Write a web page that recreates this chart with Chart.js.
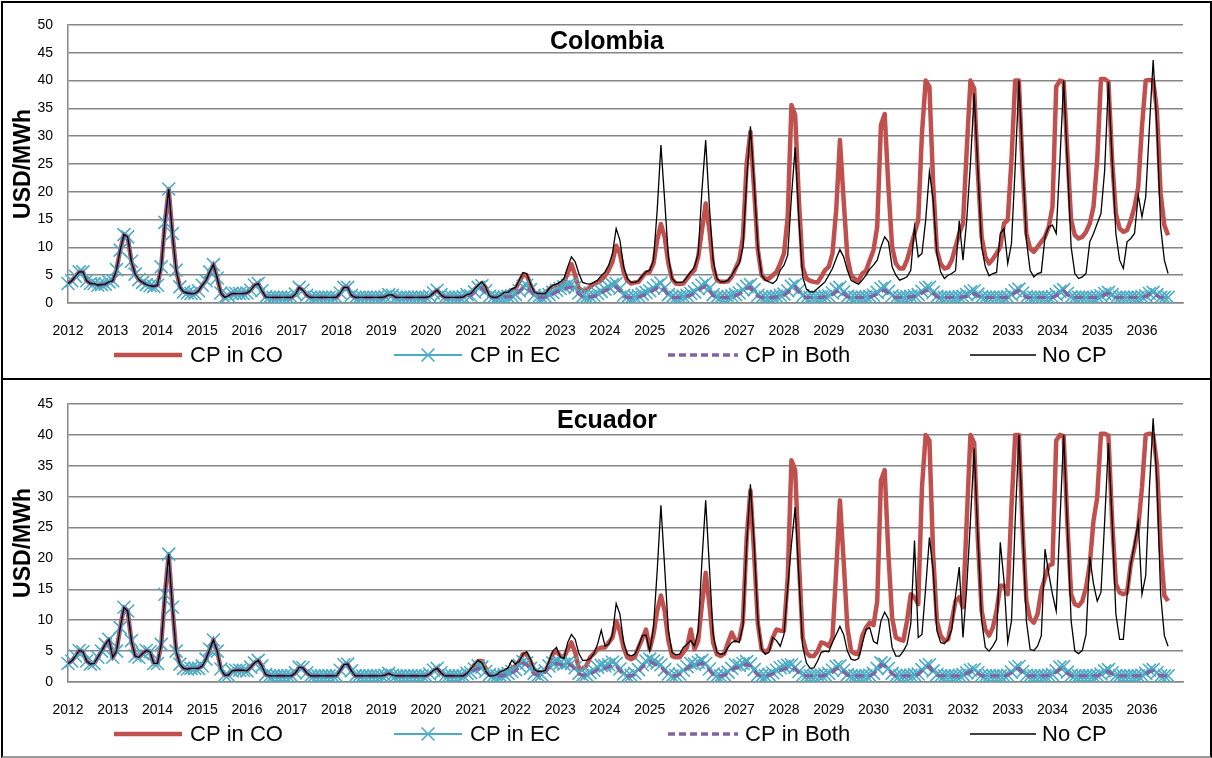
<!DOCTYPE html>
<html lang="en">
<head>
<meta charset="UTF-8">
<title>Colombia / Ecuador - USD/MWh</title>
<style>
  body { margin: 0; background: #fff; }
  #wrap { position: relative; width: 1212px; height: 758px; overflow: hidden; }
  canvas { position: absolute; left: 0; }
  .frame { position: absolute; box-sizing: border-box; border: 2px solid #000; pointer-events: none; }
</style>
<script src="https://cdn.jsdelivr.net/npm/chart.js"></script>
</head>
<body>
<div id="wrap">
  <canvas id="co" width="1212" height="379" style="top:0"></canvas>
  <canvas id="ec" width="1212" height="379" style="top:379px"></canvas>
  <div class="frame" style="left:1px;top:1px;width:1211px;height:379px"></div>
  <div class="frame" style="left:1px;top:378px;width:1211px;height:380px;border-bottom-color:#999"></div>
</div>

<script>
// year tick labels, one category per month
const years = ['2012','2013','2014','2015','2016','2017','2018','2019','2020','2021','2022','2023',
  '2024','2025','2026','2027','2028','2029','2030','2031','2032','2033','2034','2035','2036'];

// Colombia - shared history 2012-2020 (all series overlap)
const coHist = [
  3.5, 4.0, 4.8, 5.6, 5.6, 4.0, 3.5, 3.5, 3.2, 3.3, 3.4, 3.8,
  4.0, 6.0, 9.5, 12.3, 11.9, 7.5, 5.2, 4.2, 3.7, 3.3, 3.1, 3.0,
  3.2, 6.5, 14.5, 20.5, 12.5, 5.9, 2.9, 2.0, 1.8, 1.7, 1.7, 2.2,
  3.2, 4.0, 5.6, 6.9, 4.5, 1.8, 1.0, 1.3, 1.7, 1.7, 1.7, 1.7,
  1.8, 2.3, 3.2, 3.5, 2.2, 1.1, 1.0, 1.0, 1.0, 1.0, 1.0, 1.0,
  1.0, 1.6, 2.8, 2.3, 1.4, 1.0, 1.0, 1.0, 1.0, 1.0, 1.0, 1.0,
  1.0, 1.8, 2.8, 2.8, 1.4, 1.0, 1.0, 1.0, 1.0, 1.0, 1.0, 1.0,
  1.0, 1.1, 1.5, 1.4, 1.0, 1.0, 1.0, 1.0, 1.0, 1.0, 1.0, 1.0,
  1.0, 1.2, 1.8, 2.3, 1.5, 1.0, 1.0, 1.0, 1.0, 1.0, 1.1, 1.5
];
// Colombia 2021 - Aug 2036
const coCO = [
  1.8, 2.4, 3.1, 3.6, 2.8, 1.3, 1.0, 1.0, 1.4, 1.8, 1.9, 2.3,
  2.6, 3.8, 5.0, 5.0, 3.3, 1.9, 1.6, 1.6, 1.7, 2.5, 3.0, 3.2,
  3.2, 3.8, 5.3, 7.0, 5.0, 2.6, 2.2, 2.3, 2.9, 3.4, 3.7, 4.1,
  4.9, 5.9, 7.4, 10.3, 8.9, 5.6, 4.0, 3.5, 3.7, 3.8, 4.7, 5.5,
  5.6, 7.1, 11.3, 14.2, 11.9, 7.1, 4.3, 3.5, 3.4, 3.5, 4.4, 5.3,
  5.9, 8.3, 13.1, 17.9, 13.1, 6.5, 4.1, 3.8, 3.8, 3.9, 4.7, 6.2,
  7.7, 11.9, 25.1, 30.8, 20.3, 9.5, 5.0, 4.3, 4.4, 5.0, 5.6, 7.1,
  8.9, 15.5, 35.6, 33.8, 18.5, 6.5, 4.4, 4.0, 3.8, 3.7, 4.7, 5.9,
  6.5, 8.9, 16.7, 29.3, 18.5, 8.3, 5.0, 4.3, 4.0, 5.3, 5.8, 7.7,
  9.5, 13.7, 32.0, 34.0, 20.9, 10.1, 7.1, 6.2, 6.2, 7.7, 10.1, 12.5,
  14.9, 30.5, 40.0, 38.9, 21.5, 9.5, 7.1, 6.2, 6.4, 7.7, 10.1, 12.5,
  14.3, 27.5, 40.0, 38.6, 23.3, 11.9, 8.3, 7.1, 7.9, 8.9, 10.1, 14.3,
  14.9, 25.7, 40.0, 40.0, 23.9, 12.5, 9.8, 9.2, 10.1, 11.0, 11.9, 13.7,
  17.3, 38.9, 40.0, 39.8, 26.9, 14.9, 12.2, 11.6, 11.9, 12.8, 14.3, 17.3,
  25.7, 40.3, 40.3, 39.8, 25.7, 16.1, 13.4, 12.8, 13.1, 14.9, 17.3, 20.9,
  31.7, 40.0, 40.1, 40.0, 34.7, 19.7, 14.0, 12.2
];
const coEC = [
  1.3, 2.0, 2.8, 3.1, 2.2, 1.2, 1.0, 1.0, 1.0, 1.1, 1.2, 1.3,
  1.5, 2.2, 3.0, 3.2, 2.4, 1.4, 1.0, 1.0, 1.2, 1.5, 1.9, 2.3,
  2.6, 2.9, 3.2, 3.3, 2.8, 1.8, 1.2, 1.1, 1.2, 1.4, 1.7, 2.1,
  2.5, 2.9, 3.3, 3.5, 2.6, 1.4, 1.1, 1.0, 1.1, 1.3, 1.6, 1.9,
  2.2, 2.7, 3.2, 3.6, 2.7, 1.5, 1.1, 1.0, 1.1, 1.2, 1.4, 1.7,
  2.0, 2.6, 3.2, 3.6, 2.6, 1.5, 1.1, 1.0, 1.0, 1.1, 1.3, 1.5,
  1.8, 2.4, 3.0, 3.3, 2.4, 1.4, 1.0, 1.0, 1.0, 1.1, 1.2, 1.4,
  1.6, 2.2, 3.0, 3.3, 2.3, 1.3, 1.0, 1.0, 1.0, 1.0, 1.1, 1.2,
  1.3, 1.8, 2.5, 2.8, 2.0, 1.2, 1.0, 1.0, 1.0, 1.0, 1.1, 1.2,
  1.4, 1.9, 2.6, 2.9, 2.1, 1.3, 1.0, 1.0, 1.0, 1.1, 1.2, 1.3,
  1.5, 2.1, 2.7, 2.8, 1.9, 1.2, 1.0, 1.0, 1.0, 1.0, 1.0, 1.1,
  1.2, 1.5, 2.0, 2.2, 1.6, 1.1, 1.0, 1.0, 1.0, 1.0, 1.0, 1.0,
  1.1, 1.5, 2.2, 2.5, 1.8, 1.1, 1.0, 1.0, 1.0, 1.0, 1.0, 1.0,
  1.1, 1.5, 2.1, 2.4, 1.7, 1.1, 1.0, 1.0, 1.0, 1.0, 1.0, 1.0,
  1.1, 1.3, 1.7, 1.9, 1.5, 1.0, 1.0, 1.0, 1.0, 1.0, 1.0, 1.0,
  1.1, 1.3, 1.7, 1.9, 1.5, 1.0, 1.0, 1.0
];
const coBoth = [
  1.3, 1.9, 2.5, 2.7, 2.0, 1.2, 1.0, 1.0, 1.0, 1.1, 1.1, 1.2,
  1.4, 2.0, 2.7, 2.9, 2.2, 1.3, 1.0, 1.0, 1.1, 1.3, 1.6, 2.0,
  2.3, 2.5, 2.7, 2.8, 2.4, 1.6, 1.1, 1.1, 1.1, 1.2, 1.4, 1.8,
  2.2, 2.5, 2.8, 2.9, 2.2, 1.2, 1.0, 1.0, 1.0, 1.1, 1.3, 1.6,
  1.9, 2.3, 2.7, 3.0, 2.3, 1.3, 1.0, 1.0, 1.0, 1.1, 1.2, 1.4,
  1.7, 2.2, 2.7, 3.0, 2.2, 1.3, 1.0, 1.0, 1.0, 1.0, 1.1, 1.3,
  1.6, 2.0, 2.6, 2.8, 2.0, 1.2, 1.0, 1.0, 1.0, 1.0, 1.1, 1.2,
  1.4, 1.9, 2.6, 2.9, 2.0, 1.2, 1.0, 1.0, 1.0, 1.0, 1.0, 1.1,
  1.2, 1.5, 2.0, 2.3, 1.7, 1.1, 1.0, 1.0, 1.0, 1.0, 1.0, 1.1,
  1.3, 1.6, 2.1, 2.3, 1.8, 1.2, 1.0, 1.0, 1.0, 1.0, 1.1, 1.2,
  1.4, 1.8, 2.2, 2.3, 1.7, 1.1, 1.0, 1.0, 1.0, 1.0, 1.0, 1.0,
  1.1, 1.2, 1.5, 1.7, 1.3, 1.0, 1.0, 1.0, 1.0, 1.0, 1.0, 1.0,
  1.0, 1.3, 1.9, 2.2, 1.5, 1.0, 1.0, 1.0, 1.0, 1.0, 1.0, 1.0,
  1.0, 1.3, 1.9, 2.2, 1.5, 1.0, 1.0, 1.0, 1.0, 1.0, 1.0, 1.0,
  1.0, 1.2, 1.5, 1.7, 1.3, 1.0, 1.0, 1.0, 1.0, 1.0, 1.0, 1.0,
  1.0, 1.2, 1.6, 1.7, 1.3, 1.0, 1.0, 1.0
];
const coNone = [
  1.7, 2.5, 3.2, 3.8, 2.9, 1.3, 1.0, 1.0, 1.4, 1.9, 1.9, 2.5,
  2.8, 4.1, 5.5, 5.3, 3.5, 2.0, 1.7, 1.7, 1.7, 2.6, 3.2, 3.4,
  3.8, 4.4, 6.5, 8.3, 7.4, 5.3, 3.7, 3.5, 3.4, 3.7, 4.1, 4.9,
  5.6, 6.8, 8.9, 13.4, 11.3, 6.5, 4.4, 3.7, 3.7, 4.0, 4.9, 5.6,
  5.9, 7.7, 16.7, 28.4, 18.5, 8.3, 4.4, 3.7, 3.7, 3.8, 4.7, 5.6,
  6.5, 8.9, 20.3, 29.3, 17.3, 7.7, 4.4, 3.8, 3.8, 4.1, 5.0, 6.2,
  7.1, 10.1, 22.1, 31.8, 21.5, 10.1, 5.0, 4.1, 3.8, 3.5, 4.1, 5.9,
  6.8, 8.6, 19.1, 28.0, 14.9, 4.7, 2.5, 2.0, 2.0, 2.6, 3.2, 3.8,
  5.0, 6.2, 8.0, 9.6, 8.3, 5.9, 4.1, 3.7, 3.4, 4.1, 5.0, 6.1,
  6.8, 7.7, 10.1, 11.9, 11.0, 6.5, 5.0, 4.1, 4.4, 4.7, 5.9, 13.7,
  8.3, 8.9, 14.9, 23.6, 18.5, 8.9, 5.6, 4.4, 5.0, 5.3, 5.8, 14.8,
  7.7, 14.9, 25.1, 37.7, 23.9, 10.1, 6.5, 4.9, 5.3, 5.5, 12.5, 13.4,
  7.1, 10.7, 24.5, 40.0, 25.7, 11.3, 5.9, 4.7, 5.3, 5.5, 11.9, 13.7,
  14.0, 12.5, 25.7, 40.0, 25.1, 10.1, 5.3, 4.4, 4.7, 5.3, 11.0, 12.5,
  14.3, 16.1, 23.9, 39.8, 25.7, 12.5, 7.7, 6.2, 11.0, 11.6, 12.5, 19.4,
  15.5, 19.1, 31.7, 43.7, 31.7, 13.7, 7.7, 5.3
];

// Ecuador - shared history 2012-2020
const ecHist = [
  3.0, 3.4, 4.2, 5.1, 4.9, 3.4, 2.9, 3.0, 4.0, 5.0, 6.1, 6.9,
  4.0, 5.0, 8.8, 12.1, 11.5, 6.7, 4.2, 4.0, 4.6, 5.1, 4.9, 3.0,
  3.0, 6.1, 14.2, 20.7, 12.1, 5.0, 2.9, 2.2, 2.1, 2.2, 2.2, 2.2,
  2.6, 3.7, 5.3, 6.8, 5.0, 2.1, 1.1, 1.1, 1.8, 1.9, 1.9, 1.9,
  1.8, 2.4, 3.1, 3.5, 2.6, 1.2, 1.0, 1.0, 1.0, 1.0, 1.0, 1.0,
  1.0, 1.5, 2.4, 2.3, 1.5, 1.0, 1.0, 1.0, 1.0, 1.0, 1.0, 1.0,
  1.0, 1.9, 2.8, 2.9, 1.8, 1.0, 1.0, 1.0, 1.0, 1.0, 1.0, 1.0,
  1.0, 1.1, 1.4, 1.1, 1.0, 1.0, 1.0, 1.0, 1.0, 1.0, 1.0, 1.0,
  1.0, 1.3, 1.9, 2.2, 1.5, 1.0, 1.0, 1.0, 1.0, 1.0, 1.0, 1.4
];
const ecCO = [
  2.0, 2.8, 3.4, 3.4, 2.2, 1.2, 1.0, 1.1, 1.6, 1.8, 2.0, 2.2,
  2.6, 3.4, 4.5, 4.5, 3.4, 2.0, 1.6, 1.6, 1.8, 3.0, 4.6, 5.0,
  4.2, 4.0, 5.3, 6.4, 4.8, 2.2, 2.1, 2.6, 4.0, 4.6, 5.3, 5.6,
  5.6, 6.4, 7.2, 9.9, 8.2, 5.5, 4.0, 3.7, 4.0, 5.6, 7.0, 8.5,
  5.3, 7.7, 11.5, 14.0, 11.5, 6.7, 4.2, 4.0, 4.0, 4.8, 5.6, 8.5,
  5.3, 6.7, 12.6, 17.7, 12.6, 6.4, 4.5, 4.2, 4.6, 6.4, 8.0, 6.7,
  6.9, 9.9, 23.4, 31.0, 20.7, 9.4, 5.3, 4.8, 5.3, 7.2, 8.5, 8.3,
  8.3, 16.9, 35.9, 34.3, 19.6, 7.2, 4.8, 4.2, 4.2, 5.0, 6.4, 6.2,
  5.8, 7.2, 18.0, 29.4, 19.6, 8.8, 5.0, 4.6, 4.5, 7.5, 8.8, 9.6,
  9.2, 13.0, 32.6, 34.3, 20.7, 10.4, 7.2, 6.9, 6.7, 9.9, 14.2, 13.7,
  12.6, 31.5, 40.0, 39.1, 20.7, 9.9, 7.5, 6.7, 6.9, 9.9, 13.1, 13.7,
  12.1, 26.1, 40.0, 38.7, 22.9, 11.5, 8.5, 7.5, 8.8, 11.5, 15.6, 15.6,
  14.2, 28.3, 40.0, 40.0, 24.5, 13.1, 10.2, 9.6, 11.0, 14.8, 16.9, 18.8,
  19.1, 39.1, 40.0, 39.8, 25.6, 14.2, 12.6, 12.3, 13.1, 15.3, 19.1, 26.1,
  29.9, 40.2, 40.2, 39.9, 26.1, 15.9, 14.5, 14.2, 14.5, 19.1, 21.8, 25.1,
  31.5, 40.0, 40.2, 40.0, 35.3, 21.8, 14.0, 13.1
];
const ecEC = [
  1.5, 2.1, 2.6, 2.4, 1.7, 1.2, 1.0, 1.0, 1.0, 1.2, 1.4, 1.7,
  2.0, 2.7, 3.3, 3.1, 2.2, 1.4, 1.1, 1.2, 1.8, 2.6, 3.1, 3.3,
  3.1, 2.9, 3.1, 3.0, 2.3, 1.4, 1.1, 1.2, 1.5, 1.9, 2.4, 2.7,
  2.6, 2.8, 3.2, 3.0, 2.1, 1.3, 1.0, 1.1, 1.4, 2.0, 2.8, 3.4,
  3.7, 3.4, 3.1, 2.8, 2.0, 1.3, 1.0, 1.1, 1.3, 1.9, 2.5, 3.0,
  2.9, 3.2, 3.5, 3.0, 2.1, 1.3, 1.0, 1.0, 1.2, 1.6, 2.2, 2.8,
  2.7, 3.0, 3.3, 2.9, 2.0, 1.2, 1.0, 1.0, 1.2, 1.5, 1.9, 2.3,
  2.5, 2.7, 2.8, 2.4, 1.7, 1.1, 1.0, 1.0, 1.0, 1.1, 1.1, 1.2,
  1.4, 1.9, 2.5, 2.6, 1.9, 1.2, 1.0, 1.0, 1.0, 1.0, 1.0, 1.1,
  1.4, 2.2, 3.1, 2.9, 2.2, 1.4, 1.0, 1.0, 1.0, 1.1, 1.1, 1.2,
  1.3, 2.0, 2.6, 2.8, 1.8, 1.2, 1.0, 1.0, 1.0, 1.0, 1.0, 1.1,
  1.2, 1.5, 1.9, 2.0, 1.5, 1.1, 1.0, 1.0, 1.0, 1.0, 1.0, 1.0,
  1.1, 1.6, 2.3, 2.5, 1.7, 1.1, 1.0, 1.0, 1.0, 1.0, 1.0, 1.1,
  1.2, 1.8, 2.4, 2.5, 1.6, 1.1, 1.0, 1.0, 1.0, 1.0, 1.0, 1.0,
  1.1, 1.3, 1.8, 2.0, 1.5, 1.0, 1.0, 1.0, 1.0, 1.0, 1.0, 1.0,
  1.1, 1.4, 1.9, 2.0, 1.5, 1.0, 1.0, 1.0
];
const ecBoth = [
  1.4, 1.9, 2.2, 2.0, 1.5, 1.1, 1.0, 1.0, 1.0, 1.1, 1.2, 1.5,
  1.8, 2.4, 3.0, 2.8, 2.0, 1.3, 1.1, 1.1, 1.6, 2.3, 2.8, 3.0,
  2.8, 2.6, 2.8, 2.7, 2.0, 1.3, 1.1, 1.1, 1.3, 1.6, 2.0, 2.3,
  2.2, 2.4, 2.8, 2.6, 1.8, 1.2, 1.0, 1.0, 1.2, 1.7, 2.4, 3.0,
  3.3, 3.0, 2.7, 2.4, 1.8, 1.2, 1.0, 1.0, 1.2, 1.6, 2.2, 2.6,
  2.5, 2.8, 3.1, 2.7, 1.9, 1.2, 1.0, 1.0, 1.1, 1.4, 1.9, 2.4,
  2.3, 2.6, 2.9, 2.6, 1.8, 1.1, 1.0, 1.0, 1.1, 1.3, 1.6, 1.9,
  2.1, 2.3, 2.4, 2.1, 1.5, 1.1, 1.0, 1.0, 1.0, 1.0, 1.0, 1.1,
  1.2, 1.6, 2.1, 2.3, 1.6, 1.1, 1.0, 1.0, 1.0, 1.0, 1.0, 1.0,
  1.3, 2.0, 2.8, 2.6, 2.0, 1.3, 1.0, 1.0, 1.0, 1.0, 1.0, 1.1,
  1.2, 1.8, 2.3, 2.5, 1.6, 1.1, 1.0, 1.0, 1.0, 1.0, 1.0, 1.0,
  1.2, 1.4, 1.7, 1.8, 1.4, 1.0, 1.0, 1.0, 1.0, 1.0, 1.0, 1.0,
  1.1, 1.5, 2.1, 2.2, 1.5, 1.0, 1.0, 1.0, 1.0, 1.0, 1.0, 1.1,
  1.2, 1.6, 2.1, 2.0, 1.4, 1.0, 1.0, 1.0, 1.0, 1.0, 1.0, 1.0,
  1.0, 1.2, 1.6, 1.7, 1.3, 1.0, 1.0, 1.0, 1.0, 1.0, 1.0, 1.0,
  1.1, 1.3, 1.7, 1.8, 1.3, 1.0, 1.0, 1.0
];
const ecNone = [
  2.1, 2.9, 3.5, 3.1, 1.8, 1.0, 1.0, 1.2, 1.7, 1.9, 2.3, 3.5,
  2.9, 3.4, 4.5, 4.9, 3.7, 2.1, 1.7, 1.7, 1.9, 3.4, 5.0, 5.6,
  4.1, 3.8, 6.4, 7.7, 6.9, 4.6, 3.5, 3.5, 3.8, 4.6, 6.1, 8.4,
  5.8, 6.1, 7.7, 12.7, 11.0, 6.4, 4.5, 4.2, 4.5, 5.8, 7.5, 7.6,
  5.0, 8.8, 18.0, 28.6, 18.6, 8.3, 4.8, 4.4, 4.5, 5.6, 6.1, 6.7,
  5.8, 8.3, 19.6, 29.4, 18.6, 7.7, 4.8, 4.5, 4.6, 5.6, 6.4, 6.7,
  6.4, 9.1, 22.3, 32.0, 22.3, 9.9, 5.3, 4.5, 4.8, 7.2, 6.7, 5.8,
  7.7, 15.3, 22.3, 28.3, 16.9, 5.8, 3.1, 2.2, 2.3, 3.4, 4.8, 5.0,
  4.9, 6.4, 7.7, 9.0, 7.7, 5.0, 3.7, 3.5, 3.8, 6.2, 8.5, 8.8,
  6.6, 6.2, 9.9, 11.3, 10.2, 5.6, 4.2, 4.2, 5.0, 6.1, 9.4, 22.9,
  7.2, 7.7, 15.3, 23.4, 18.0, 8.3, 6.4, 6.2, 6.9, 8.5, 14.0, 18.6,
  7.2, 15.3, 26.1, 37.8, 23.4, 9.9, 5.6, 5.0, 5.8, 6.9, 22.6, 16.4,
  6.4, 9.9, 26.1, 40.0, 25.1, 9.9, 5.3, 5.1, 5.8, 7.5, 21.5, 17.5,
  14.2, 11.5, 26.1, 40.0, 25.1, 9.9, 5.0, 4.6, 5.1, 7.7, 20.2, 15.9,
  13.1, 14.5, 26.1, 38.7, 26.1, 11.0, 6.9, 6.9, 14.0, 19.1, 22.3, 25.9,
  14.2, 17.2, 31.5, 42.7, 32.6, 14.2, 7.5, 5.8
];

const monthLabels = [];
years.forEach(y => {
  for (let m = 1; m <= 12; m++) monthLabels.push(y + '-' + String(m).padStart(2, '0'));
});

Chart.defaults.font.family = '"Liberation Sans", Arial, sans-serif';
Chart.defaults.color = '#000';

// legend sample positions (canvas px)
const legendSlots = [
  { x0: 114, x1: 182, tx: 190 },
  { x0: 394, x1: 462, tx: 470 },
  { x0: 668, x1: 738, tx: 745 },
  { x0: 970, x1: 1036, tx: 1042 }
];

// draws the panel title inside the plot and the legend row underneath
const panelDecor = {
  id: 'panelDecor',
  afterDraw(chart, args, opts) {
    const ctx = chart.ctx;
    ctx.save();
    ctx.fillStyle = '#000';
    ctx.font = 'bold 25px "Liberation Sans", Arial, sans-serif';
    ctx.textAlign = 'center';
    ctx.textBaseline = 'middle';
    ctx.fillText(opts.title, 607, 42);

    const ly = 355;
    chart.data.datasets.forEach((ds, i) => {
      const s = legendSlots[i];
      ctx.save();
      ctx.strokeStyle = ds.borderColor;
      ctx.lineWidth = ds.borderWidth;
      ctx.setLineDash(ds.borderDash ? [7, 4] : []);
      ctx.beginPath();
      ctx.moveTo(s.x0, ly);
      ctx.lineTo(s.x1, ly);
      ctx.stroke();
      if (ds.pointStyle === 'crossRot') {
        const cx = (s.x0 + s.x1) / 2, r = 6.5;
        ctx.lineWidth = 1.6;
        ctx.beginPath();
        ctx.moveTo(cx - r, ly - r); ctx.lineTo(cx + r, ly + r);
        ctx.moveTo(cx + r, ly - r); ctx.lineTo(cx - r, ly + r);
        ctx.stroke();
      }
      ctx.restore();
      ctx.font = '22px "Liberation Sans", Arial, sans-serif';
      ctx.textAlign = 'left';
      ctx.textBaseline = 'middle';
      ctx.fillText(ds.label, s.tx, ly + 1);
    });
    ctx.restore();
  }
};

function makeChart(id, title, yMax, hist, cpCO, cpEC, cpBoth, noCP) {
  return new Chart(document.getElementById(id), {
    type: 'line',
    data: {
      labels: monthLabels,
      datasets: [
        { label: 'CP in CO', data: hist.concat(cpCO), borderColor: '#C0504D', borderWidth: 4.5,
          borderJoinStyle: 'round', pointRadius: 0, order: 4 },
        { label: 'CP in EC', data: hist.concat(cpEC), borderColor: '#4BACC6', borderWidth: 2,
          pointStyle: 'crossRot', pointRadius: 9.2, pointBorderWidth: 1.6,
          pointBorderColor: '#4BACC6', pointBackgroundColor: '#4BACC6', order: 3 },
        { label: 'CP in Both', data: hist.concat(cpBoth), borderColor: '#8064A2', borderWidth: 3.3,
          borderDash: [9, 5], pointRadius: 0, order: 2 },
        { label: 'No CP', data: hist.concat(noCP), borderColor: '#000', borderWidth: 1.3,
          pointRadius: 0, order: 1 }
      ]
    },
    options: {
      responsive: false,
      animation: false,
      devicePixelRatio: 1,
      layout: { padding: { left: 0, right: 29, top: 25, bottom: 40 } },
      elements: { line: { tension: 0 } },
      plugins: {
        legend: { display: false },
        tooltip: { enabled: false },
        panelDecor: { title: title }
      },
      scales: {
        x: {
          type: 'category',
          grid: { display: false },
          border: { display: true, color: '#868686', width: 1.5 },
          ticks: {
            autoSkip: false, maxRotation: 0, minRotation: 0, padding: 12,
            color: '#000', font: { size: 14 },
            callback: (v, i) => (i % 12 === 0 ? years[i / 12] : null)
          },
          afterFit: s => { s.height = 36; }
        },
        y: {
          min: 0, max: yMax,
          grid: { color: '#868686', lineWidth: 1.5, drawTicks: false },
          border: { display: true, color: '#868686', width: 1.5 },
          ticks: { stepSize: 5, padding: 15, color: '#000', font: { size: 14 } },
          title: {
            display: true, text: 'USD/MWh', color: '#000',
            font: { size: 23, weight: 'bold', lineHeight: 1.2 },
            padding: { top: 10, bottom: 0 }
          },
          afterFit: s => { s.width = 68; }
        }
      }
    },
    plugins: [panelDecor]
  });
}

makeChart('co', 'Colombia', 50, coHist, coCO, coEC, coBoth, coNone);
makeChart('ec', 'Ecuador', 45, ecHist, ecCO, ecEC, ecBoth, ecNone);
</script>
</body>
</html>
